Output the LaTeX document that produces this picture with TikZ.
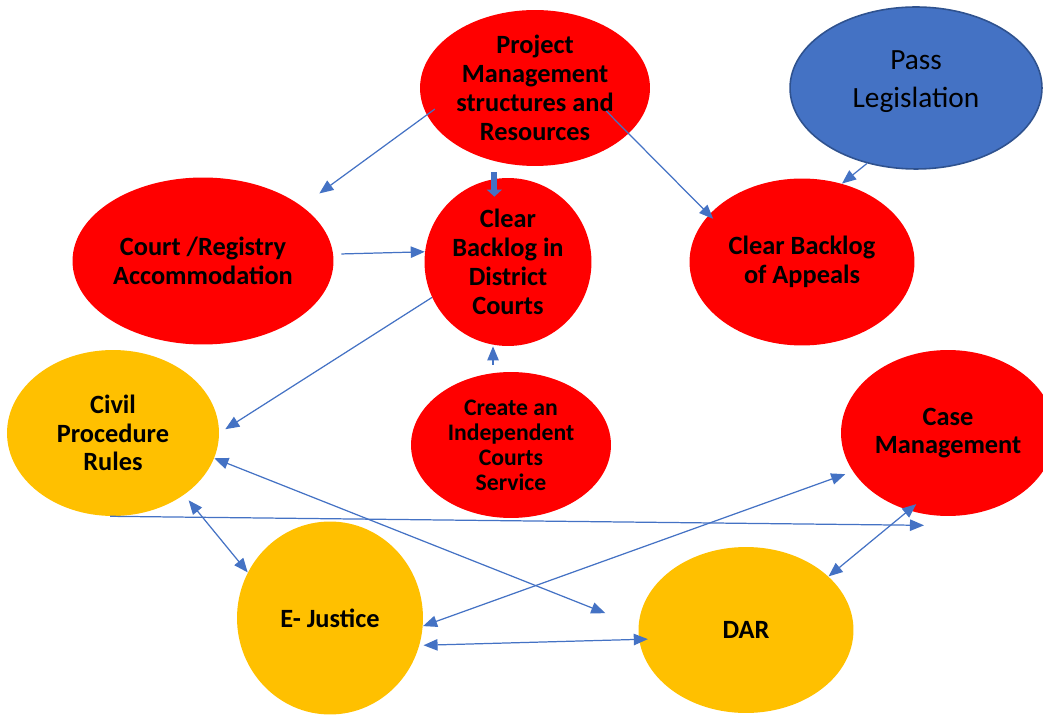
\documentclass[tikz,border=0pt]{standalone}
\usepackage{fontspec}
\setmainfont{Carlito}
\usetikzlibrary{shapes.geometric, arrows.meta, calc}

\definecolor{bubblered}{HTML}{FF0000}
\definecolor{bubbleorange}{HTML}{FFC000}
\definecolor{bubbleblue}{HTML}{4472C4}
\definecolor{blueedge}{HTML}{2F528F}
\definecolor{linkblue}{HTML}{4472C4}

\begin{document}
\begin{tikzpicture}[
    x=0.02cm, y=-0.02cm,
    bubble/.style = {ellipse, inner sep=0pt},
    redbubble/.style = {bubble, fill=bubblered},
    orangebubble/.style = {bubble, fill=bubbleorange},
    bluebubble/.style = {bubble, fill=bubbleblue, draw=blueedge, line width=0.9pt},
    bigtext/.style = {align=center, font=\fontsize{15}{16.4}\selectfont\bfseries},
    smalltext/.style = {align=center, font=\fontsize{13.5}{14.2}\selectfont\bfseries},
    plaintext/.style = {align=center, font=\fontsize{16.7}{21.5}\selectfont},
    tip/.tip = {Triangle[length=8pt, width=6.5pt]},
    link/.style = {draw=linkblue, line width=0.7pt, -tip},
    twoway/.style = {link, tip-tip},
    blockarrow/.style = {draw=linkblue, line width=3.4pt, -{Triangle[length=4pt, width=8.5pt]}}]

    \useasboundingbox (0,0) rectangle (1043,715);

    \node[redbubble, minimum width=4.6cm, minimum height=3.12cm,
        label={[bigtext]center:{Project\\Management\\structures and\\Resources}}] (pm) at (535,88) {};
    \node[bluebubble, minimum width=5.04cm, minimum height=3.24cm,
        label={[plaintext, yshift=0.12cm]center:{Pass\\Legislation}}] (pl) at (916,88) {};
    \node[redbubble, minimum width=5.22cm, minimum height=3.34cm,
        label={[bigtext]center:{Court /Registry\\Accommodation}}] (cra) at (203,261) {};
    \node[redbubble, minimum width=3.34cm, minimum height=3.36cm,
        label={[bigtext]center:{Clear\\Backlog in\\District\\Courts}}] (cbd) at (508,262) {};
    \node[redbubble, minimum width=4.5cm, minimum height=3.34cm,
        label={[bigtext]center:{Clear Backlog\\of Appeals}}] (cba) at (802,262) {};
    \node[orangebubble, minimum width=4.24cm, minimum height=3.32cm,
        label={[bigtext]center:{Civil\\Procedure\\Rules}}] (cpr) at (113,433) {};
    \node[redbubble, minimum width=4.0cm, minimum height=2.92cm,
        label={[smalltext]center:{Create an\\Independent\\Courts\\Service}}] (ics) at (511,445) {};
    \node[redbubble, minimum width=4.28cm, minimum height=3.32cm,
        label={[bigtext]center:{Case\\Management}}] (cm) at (948,433) {};
    \node[orangebubble, minimum width=3.72cm, minimum height=3.86cm,
        label={[bigtext]center:{E- Justice}}] (ej) at (330,618) {};
    \node[orangebubble, minimum width=4.3cm, minimum height=3.32cm,
        label={[bigtext]center:{DAR}}] (dar) at (746,630) {};

    % one-way links
    \draw[link, shorten <=-0.2cm, shorten >=0.43cm] (pm.194) -- (cra.29);
    \draw[blockarrow, shorten <=0.22cm, shorten >=-0.38cm] (pm.241) -- (pm.241 |- cbd.north);
    \draw[link, shorten <=-0.64cm, shorten >=-0.12cm] (pm.334) -- (cba.153);
    \draw[link] (pl.237) -- (cba.63);
    \draw[link, shorten <=0.16cm] (cra.3) -- (cbd.173);
    \draw[link, shorten >=0.14cm] (cbd.205) -- (cpr.east);
    \draw[link, shorten <=0.16cm] (ics.104) -- (ics.104 |- cbd.south);
    \draw[link] (cpr.268) -- ($(cm.south)+(-24,9)$);

    % two-way links
    \draw[twoway, shorten >=0.71cm] (cpr.346) -- (dar.178);
    \draw[twoway, shorten <=0.14cm] (cpr.319) -- (ej.151);
    \draw[twoway, shorten >=0.16cm] (ej.355) -- (cm.202);
    \draw[twoway, shorten >=-0.2cm] (dar.33) -- (cm.243);
    \draw[twoway, shorten <=0.08cm, shorten >=-0.18cm] (ej.343) -- (dar.185);
\end{tikzpicture}
\end{document}
